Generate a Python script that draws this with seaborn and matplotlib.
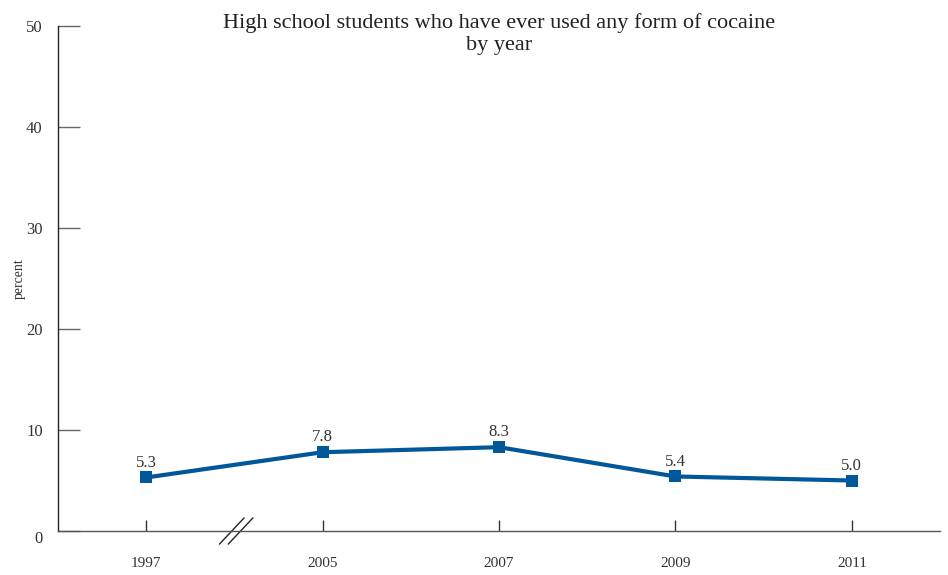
import pandas as pd
import matplotlib.pyplot as plt
import seaborn as sns

# datos
years = ['1997', '2005', '2007', '2009', '2011']
percent = [5.3, 7.8, 8.3, 5.4, 5.0]
yticks = [0, 10, 20, 30, 40, 50]

df = pd.DataFrame({'year': years, 'percent': percent})
df['pos'] = range(len(df))

sns.set_style('white')
plt.rcParams['font.family'] = ['Liberation Serif', 'DejaVu Serif']

fig = plt.figure(figsize=(9.48, 5.75), dpi=100)
ax = fig.add_axes([0.0612, 0.0765, 0.9304, 0.8783])

sns.lineplot(data=df, x='pos', y='percent', ax=ax, color='#00579a',
             linewidth=3, marker='s', markersize=8, markeredgewidth=0)

for x, y in zip(df['pos'], df['percent']):
    ax.annotate(f'{y:.1f}', (x, y), xytext=(0, 5), textcoords='offset points',
                ha='center', va='bottom', fontsize=12, color='#333333')

ax.set_xlim(-0.5, 4.5)
ax.set_ylim(0, 50)
ax.set_xticks(df['pos'])
ax.set_xticklabels(years, fontsize=11, color='#333333')
ax.set_yticks(yticks)
ax.set_yticklabels([str(t) for t in yticks], fontsize=12, color='#333333')
ax.tick_params(axis='y', direction='in', length=16, width=1, color='#666666', pad=11, left=True)
ax.tick_params(axis='x', direction='in', length=8, width=1, color='#333333', pad=19, bottom=True)
ax.get_yticklabels()[0].set_va('top')
ax.set_xlabel('')
ax.set_ylabel('percent', fontsize=10, color='#333333')
ax.yaxis.set_label_coords(-0.036, 0.5)

for s in ['top', 'right']:
    ax.spines[s].set_visible(False)
ax.spines['left'].set_color('#222222')
ax.spines['bottom'].set_color('#555555')
ax.spines['left'].set_linewidth(1)
ax.spines['bottom'].set_linewidth(1)

# marca de corte del eje entre 1997 y 2005
for dx in (-0.025, 0.025):
    ax.plot([0.51 + dx - 0.07, 0.51 + dx + 0.07], [-1.3, 1.3], color='#222222',
            linewidth=1, clip_on=False)

ax.text(0.5, 1.025, 'High school students who have ever used any form of cocaine\nby year',
        transform=ax.transAxes, ha='center', va='top', fontsize=16, color='#222222',
        linespacing=1.2)

plt.savefig('out.png', dpi=100)
